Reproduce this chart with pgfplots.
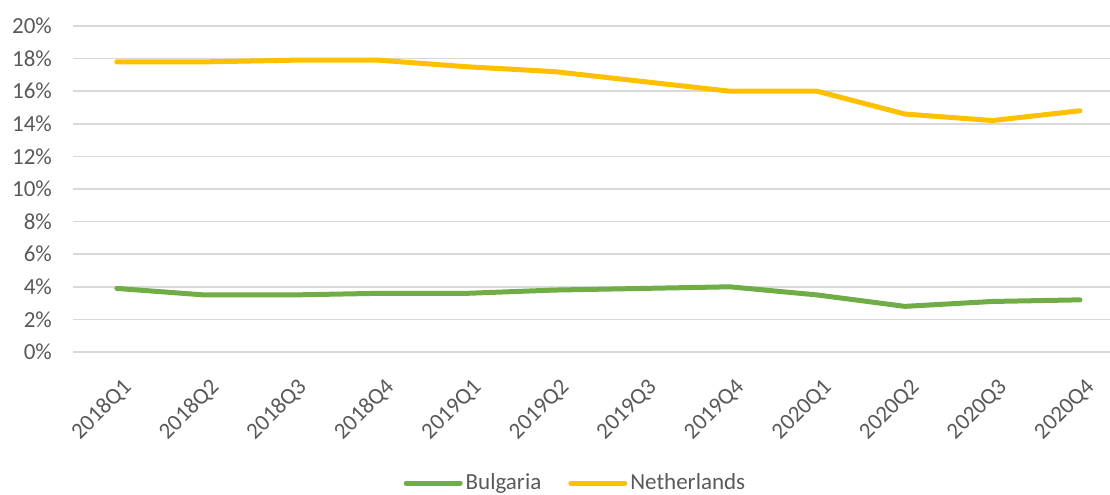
\documentclass[border=0pt]{standalone}
\usepackage{pgfplots}
\pgfplotsset{compat=1.18}
\usepackage{fontspec}
\setmainfont{Carlito}
\definecolor{bgGreen}{HTML}{70AD47}
\definecolor{nlGold}{HTML}{FFC000}
\definecolor{txtGray}{HTML}{595959}
\definecolor{gridGray}{HTML}{D9D9D9}
\begin{document}
\begin{tikzpicture}
\useasboundingbox (0pt,0pt) rectangle (555pt,247pt);
\begin{axis}[
  at={(36.5pt,71pt)}, anchor=south west,
  scale only axis,
  width=518.5pt, height=163pt,
  xmin=-0.5, xmax=11.343,
  ymin=0, ymax=20,
  ytick={0,2,...,20},
  xtick={0,...,11},
  xticklabels={2018Q1,2018Q2,2018Q3,2018Q4,2019Q1,2019Q2,2019Q3,2019Q4,2020Q1,2020Q2,2020Q3,2020Q4},
  yticklabel={\pgfmathprintnumber{\tick}\%},
  /pgf/number format/assume math mode=true,
  axis line style={draw=none},
  major tick length=0pt,
  ymajorgrids,
  grid style={gridGray, line width=0.75pt},
  tick label style={font=\fontsize{11.5}{13}\selectfont, text=txtGray},
  yticklabel style={xshift=-7pt},
  xticklabel style={rotate=45, anchor=east, xshift=-3.8pt, yshift=-15.1pt},
  clip=false,
  legend columns=2,
  legend style={at={(0.485,-0.402)}, anchor=center, draw=none, fill=none,
    font=\fontsize{11.5}{13}\selectfont, text=txtGray,
    nodes={inner xsep=1.5pt},
    /tikz/every even column/.append style={column sep=12pt}},
  legend image code/.code={\draw[#1, line cap=round] (0pt,0pt) -- (27pt,0pt);},
]
\addplot[bgGreen, line width=2.5pt, line join=round, line cap=round] coordinates {
  (0,3.9) (1,3.5) (2,3.5) (3,3.6) (4,3.6) (5,3.8) (6,3.9) (7,4.0) (8,3.5) (9,2.8) (10,3.1) (11,3.2)};
\addlegendentry{Bulgaria}
\addplot[nlGold, line width=2.5pt, line join=round, line cap=round] coordinates {
  (0,17.8) (1,17.8) (2,17.9) (3,17.9) (4,17.5) (5,17.2) (6,16.6) (7,16.0) (8,16.0) (9,14.6) (10,14.2) (11,14.8)};
\addlegendentry{Netherlands}
\end{axis}
\end{tikzpicture}
\end{document}
